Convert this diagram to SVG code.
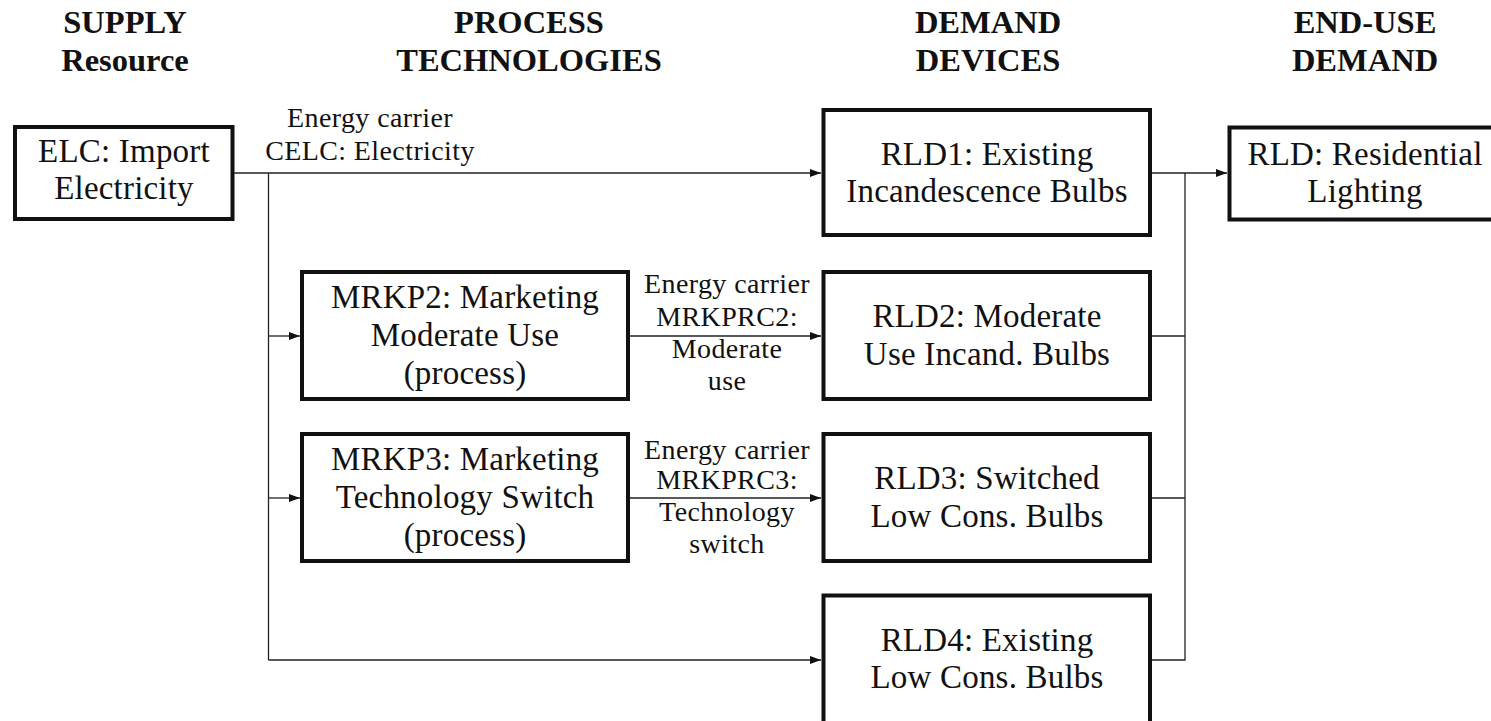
<svg xmlns="http://www.w3.org/2000/svg" width="1491" height="721" viewBox="0 0 1491 721" font-family="Liberation Serif, Times New Roman, serif">
<style>
text{font-family:'Liberation Serif','Times New Roman',serif;fill:#111;text-anchor:middle}
.h{font-weight:bold;font-size:32.5px}
.b{font-size:33px;letter-spacing:0.2px}
.l{font-size:28px;letter-spacing:0.4px}
.box{fill:#fff;stroke:#111;stroke-width:4}
.c{fill:none;stroke:#222;stroke-width:1.3}
</style>
<defs>
<marker id="ar" viewBox="0 0 11 8" refX="11" refY="4" markerWidth="11" markerHeight="8" markerUnits="userSpaceOnUse" orient="auto">
<path d="M0,0 L11,4 L0,8 z" fill="#111"/>
</marker>
</defs>
<rect width="1491" height="721" fill="#fff"/>
<g id="headers">
<text class="h" x="125" y="33">SUPPLY</text>
<text class="h" x="125" y="71">Resource</text>
<text class="h" x="529" y="33">PROCESS</text>
<text class="h" x="529" y="71">TECHNOLOGIES</text>
<text class="h" x="988" y="33">DEMAND</text>
<text class="h" x="988" y="71">DEVICES</text>
<text class="h" x="1365" y="33">END-USE</text>
<text class="h" x="1365" y="71">DEMAND</text>
</g>
<g id="connectors">
<path class="c" d="M233,173 H821" marker-end="url(#ar)"/>
<path class="c" d="M268.5,173 V660"/>
<path class="c" d="M268.5,336 H300" marker-end="url(#ar)"/>
<path class="c" d="M268.5,498 H300" marker-end="url(#ar)"/>
<path class="c" d="M268.5,660 H821" marker-end="url(#ar)"/>
<path class="c" d="M628,336 H821" marker-end="url(#ar)"/>
<path class="c" d="M628,498 H821" marker-end="url(#ar)"/>
<path class="c" d="M1150,173 H1227" marker-end="url(#ar)"/>
<path class="c" d="M1150,336 H1185"/>
<path class="c" d="M1150,498 H1185"/>
<path class="c" d="M1150,660 H1185 V173"/>
<text class="l" x="370" y="127">Energy carrier</text>
<text class="l" x="370" y="160">CELC: Electricity</text>
<text class="l" x="727" y="293">Energy carrier</text>
<text class="l" x="727" y="326">MRKPRC2:</text>
<text class="l" x="727" y="358">Moderate</text>
<text class="l" x="727" y="390">use</text>
<text class="l" x="727" y="459">Energy carrier</text>
<text class="l" x="727" y="489">MRKPRC3:</text>
<text class="l" x="727" y="521">Technology</text>
<text class="l" x="727" y="553">switch</text>
</g>
<g id="ELC">
<rect class="box" x="15" y="127" width="217.5" height="92"/>
<text class="b" x="124" y="162">ELC: Import</text>
<text class="b" x="124" y="199">Electricity</text>
</g>
<g id="RLD1">
<rect class="box" x="823.5" y="110" width="326.5" height="125"/>
<text class="b" x="987" y="165">RLD1: Existing</text>
<text class="b" x="987" y="202">Incandescence Bulbs</text>
</g>
<g id="RLD">
<rect class="box" x="1229.5" y="127.5" width="272" height="92"/>
<text class="b" x="1365" y="165">RLD: Residential</text>
<text class="b" x="1365" y="202">Lighting</text>
</g>
<g id="MRKP2">
<rect class="box" x="302" y="272" width="326" height="127"/>
<text class="b" x="465" y="308">MRKP2: Marketing</text>
<text class="b" x="465" y="346">Moderate Use</text>
<text class="b" x="465" y="384">(process)</text>
</g>
<g id="MRKP3">
<rect class="box" x="302" y="434" width="326" height="127"/>
<text class="b" x="465" y="470">MRKP3: Marketing</text>
<text class="b" x="465" y="508">Technology Switch</text>
<text class="b" x="465" y="546">(process)</text>
</g>
<g id="RLD2">
<rect class="box" x="823.5" y="272" width="326.5" height="127"/>
<text class="b" x="987" y="327">RLD2: Moderate</text>
<text class="b" x="987" y="365">Use Incand. Bulbs</text>
</g>
<g id="RLD3">
<rect class="box" x="823.5" y="434" width="326.5" height="127"/>
<text class="b" x="987" y="489">RLD3: Switched</text>
<text class="b" x="987" y="527">Low Cons. Bulbs</text>
</g>
<g id="RLD4">
<rect class="box" x="823.5" y="595.5" width="326.5" height="130"/>
<text class="b" x="987" y="651">RLD4: Existing</text>
<text class="b" x="987" y="688">Low Cons. Bulbs</text>
</g>
</svg>
